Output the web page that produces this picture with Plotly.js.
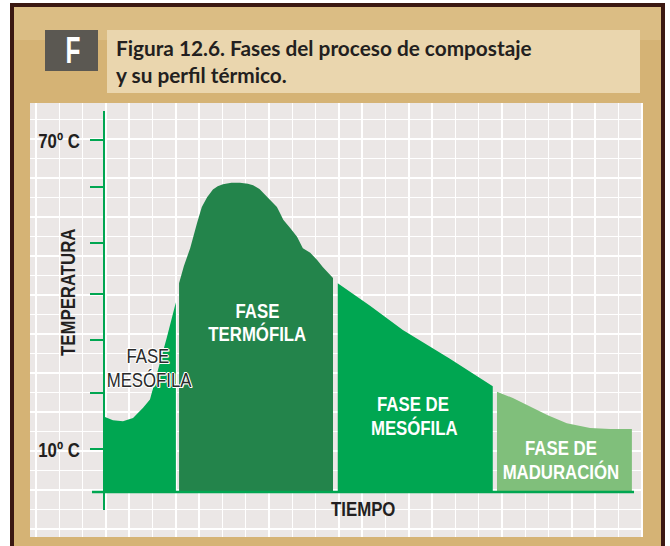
<!DOCTYPE html>
<html>
<head>
<meta charset="utf-8">
<script src="https://cdn.plot.ly/plotly-3.0.1.min.js"></script>
<style>
  html, body { margin: 0; padding: 0; background: #ffffff; }
  #chart { width: 670px; height: 546px; }
  /* condensed look for the narrow labels (all annotations except the title) */
  #chart .annotation:not([data-index="1"]) text.annotation-text {
    transform-box: fill-box;
    transform-origin: center;
    transform: scaleX(0.8);
  }
  #chart .annotation[data-index="0"] text.annotation-text {
    transform: scaleX(0.68);
  }
</style>
</head>
<body>
<div id="chart"></div>
<script>
// ---------------- DATA ----------------
// time in relative units (0 - 100), temperature in ºC
const mesofilaTime   = [0, 1.5, 3.4, 5.3, 7.2, 8.5, 9.1, 10.0, 11.7, 13.4];
const mesofilaTemp   = [16.2, 15.6, 15.4, 16.0, 18.0, 19.6, 22.0, 25.3, 31.7, 38.5];

const termofilaTime  = [14.0, 14.9, 16.1, 17.4, 18.3, 19.3, 20.4, 21.3, 22.3, 23.9, 25.5, 27.0, 28.0, 29.2, 29.9, 31.2, 32.5, 33.1, 33.7, 35.0, 36.3, 37.4, 38.8, 40.1, 41.2, 43.1];
const termofilaTemp  = [42.2, 45.5, 49.0, 53.9, 57.0, 58.9, 60.4, 61.0, 61.4, 61.7, 61.7, 61.5, 61.2, 60.5, 59.8, 58.4, 57.0, 55.8, 54.5, 52.9, 51.2, 49.0, 48.1, 46.7, 45.3, 43.2];

const mesofila2Time  = [44.0, 50.1, 56.3, 65.2, 73.3];
const mesofila2Temp  = [42.2, 37.8, 33.1, 27.5, 22.2];

const maduracionTime = [74.1, 77.1, 80.3, 83.6, 87.3, 91.7, 95.5, 99.6];
const maduracionTemp = [21.1, 19.9, 18.2, 16.6, 15.0, 14.1, 13.9, 13.9];

const baseTemp = 1.65;        // level of the time axis
const yTickVals  = [70, 60.9, 50, 40.1, 31.2, 20.9, 10];
const yTickText  = ['70º C', '', '', '', '', '', '10º C'];

const titleLines = ['Figura 12.6. Fases del proceso de compostaje', 'y su perfil térmico.'];
const figLetter  = 'F';
const xTitle = 'TIEMPO';
const yTitle = 'TEMPERATURA';

// ---------------- STYLE ----------------
const W = 670, H = 546;
const px = v => v / W;
const py = v => (H - v) / H;
const NARROW = '"Liberation Sans", Arial, sans-serif';
const GREEN = '#00a651', DARK = '#23844b', LIGHT = '#80bf7b';

function phase(t, T, color, name) {
  const xs = [t[0]].concat(t, [t[t.length - 1]]);
  const ys = [baseTemp].concat(T, [baseTemp]);
  return {
    type: 'scatter', mode: 'lines', name: name,
    x: xs, y: ys, xaxis: 'x2', yaxis: 'y2',
    fill: 'toself', fillcolor: color,
    line: { width: 0, color: color }, hoverinfo: 'skip', showlegend: false
  };
}

const traces = [
  // empty trace to create the background grid subplot
  { type: 'scatter', x: [], y: [], xaxis: 'x', yaxis: 'y', showlegend: false, hoverinfo: 'skip' },
  phase(mesofilaTime, mesofilaTemp, GREEN, 'Fase mesófila'),
  phase(termofilaTime, termofilaTemp, DARK, 'Fase termófila'),
  phase(mesofila2Time, mesofila2Temp, GREEN, 'Fase de mesófila'),
  phase(maduracionTime, maduracionTemp, LIGHT, 'Fase de maduración')
];

const labelWhite = { family: NARROW, size: 21, color: '#ffffff', weight: 700 };
const labelDark  = { family: NARROW, size: 21, color: '#2a2a2a', weight: 400,
  shadow: '1px 0 0 #fff, -1px 0 0 #fff, 0 1px 0 #fff, 0 -1px 0 #fff, 1px 1px 0 #fff, -1px -1px 0 #fff' };
const axisFont   = { family: NARROW, size: 21, color: '#231f20', weight: 700 };
const titleFont  = { family: 'Lato, "Open Sans", sans-serif', size: 20.8, color: '#231f20', weight: 700 };

function ann(text, x, y, font, extra) {
  return Object.assign({ text: text, x: px(x), y: py(y), xref: 'paper', yref: 'paper',
    showarrow: false, xanchor: 'center', yanchor: 'middle', font: font }, extra || {});
}

const annotations = [
  ann(figLetter, 73, 50, { family: NARROW, size: 36, color: '#ffffff', weight: 700 }),
  ann(titleLines.join('<br>'), 114, 61, titleFont, { xanchor: 'left', align: 'left' }),
  ann(yTitle, 67, 293, axisFont, { textangle: -90 }),
  ann(xTitle, 364, 508, axisFont),
  ann(yTickText[0], 59, 140, axisFont),
  ann(yTickText[6], 59, 449, axisFont),
  ann('FASE', 148, 355, labelDark),
  ann('MESÓFILA', 149, 379, labelDark),
  ann('FASE', 257, 310, labelWhite),
  ann('TERMÓFILA', 257, 333, labelWhite),
  ann('FASE DE', 413, 403, labelWhite),
  ann('MESÓFILA', 414, 427, labelWhite),
  ann('FASE DE', 561, 447, labelWhite),
  ann('MADURACIÓN', 561, 471, labelWhite)
];

function rect(x0, y0, x1, y1, color) {
  return { type: 'rect', xref: 'paper', yref: 'paper', layer: 'below',
    x0: px(x0), x1: px(x1), y0: py(y1), y1: py(y0),
    fillcolor: color, line: { width: 0 } };
}

const shapes = [
  rect(10, 3, 665, 560, '#3b1812'),
  rect(14, 7, 661, 560, '#d5b375'),
  rect(14, 7, 661, 40, '#dbbd84'),
  rect(45, 30, 98, 71, '#5b5852'),
  rect(107, 30, 640, 93, '#ead6ae'),
  rect(30, 103, 643, 537, '#ebe7e6'),
  // time axis line
  { type: 'line', xref: 'paper', yref: 'y2', x0: px(92), x1: px(634), y0: baseTemp, y1: baseTemp,
    line: { color: GREEN, width: 2.5 }, layer: 'above' }
];

const layout = {
  width: W, height: H,
  margin: { l: 0, r: 0, t: 0, b: 0 },
  paper_bgcolor: '#ffffff',
  plot_bgcolor: 'rgba(0,0,0,0)',
  showlegend: false,
  xaxis: { domain: [px(30), px(643)], range: [0, 613], dtick: 23.3, tick0: 6,
    showgrid: true, gridcolor: '#ffffff', gridwidth: 1.5, zeroline: false,
    showticklabels: false, ticks: '', showline: false, fixedrange: true },
  yaxis: { domain: [py(537), py(103)], range: [0, 434], dtick: 19.5, tick0: 8,
    showgrid: true, gridcolor: '#ffffff', gridwidth: 1.5, zeroline: false,
    showticklabels: false, ticks: '', showline: false, fixedrange: true },
  xaxis2: { domain: [px(105), px(634)], range: [0, 100], anchor: 'y2',
    showgrid: false, zeroline: false, showticklabels: false, ticks: '', showline: false, fixedrange: true },
  yaxis2: { domain: [py(510), py(111)], range: [-1.845, 75.63], anchor: 'x2',
    showgrid: false, zeroline: false, showline: true, linecolor: GREEN, linewidth: 2,
    ticks: 'outside', ticklen: 13, tickwidth: 2, tickcolor: GREEN,
    tickmode: 'array', tickvals: yTickVals, ticktext: yTickText,
    showticklabels: false, fixedrange: true },
  shapes: shapes,
  annotations: annotations
};

Plotly.newPlot('chart', traces, layout, { displayModeBar: false, staticPlot: true });
</script>
</body>
</html>
